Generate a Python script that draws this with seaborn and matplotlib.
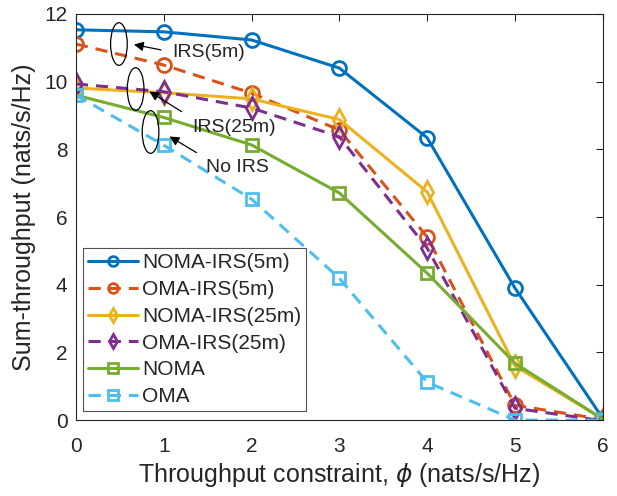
import matplotlib
matplotlib.use("Agg")
import matplotlib.pyplot as plt
from matplotlib.patches import Ellipse
import seaborn as sns
import pandas as pd

phi = [0, 1, 2, 3, 4, 5, 6]
noma_irs5 = [11.53, 11.47, 11.23, 10.40, 8.34, 3.90, 0.05]
oma_irs5 = [11.11, 10.49, 9.66, 8.57, 5.41, 0.44, 0.02]
noma_irs25 = [9.81, 9.67, 9.49, 8.88, 6.74, 1.60, 0.03]
oma_irs25 = [9.93, 9.70, 9.22, 8.37, 5.08, 0.35, -0.02]
noma = [9.60, 8.94, 8.13, 6.71, 4.34, 1.68, 0.03]
oma = [9.60, 8.12, 6.53, 4.19, 1.12, 0.00, 0.00]

names = ["NOMA-IRS(5m)", "OMA-IRS(5m)", "NOMA-IRS(25m)", "OMA-IRS(25m)", "NOMA", "OMA"]
series = [noma_irs5, oma_irs5, noma_irs25, oma_irs25, noma, oma]
colors = ["#0072BD", "#D95319", "#EDB120", "#7E2F8E", "#77AC30", "#4DBEEE"]
markers = ["o", "o", "d", "d", "s", "s"]
styles = ["-", "--", "-", "--", "-", "--"]

sns.set_theme(style="white")
plt.rcParams["font.family"] = ["Liberation Sans", "DejaVu Sans"]

fig = plt.figure(figsize=(6.17, 4.96), dpi=100)
ax = fig.add_axes([0.123, 0.153, 0.854, 0.819])

for name, vals, c, m, ls in zip(names, series, colors, markers, styles):
    df = pd.DataFrame({"phi": phi, "val": vals})
    kw = dict(linestyle="-") if ls == "-" else dict(dashes=(4, 2.6))
    sns.lineplot(data=df, x="phi", y="val", ax=ax, color=c, marker=m,
                 markersize={"o": 10, "d": 11, "s": 9}[m], markerfacecolor="none",
                 markeredgecolor=c, markeredgewidth=2.0, linewidth=2.2,
                 label=name, **kw)

ax.set_xlim(0, 6)
ax.set_ylim(0, 12)
ax.set_xticks(range(0, 7))
ax.set_yticks(range(0, 13, 2))
ax.tick_params(direction="in", top=True, right=True, length=5, width=0.8,
               labelsize=15, colors="#262626")
ax.tick_params(axis="x", pad=12)
ax.tick_params(axis="y", pad=6)
for s in ax.spines.values():
    s.set_color("#262626")
    s.set_linewidth(0.8)
ax.set_xlabel(r"Throughput constraint, $\phi$ (nats/s/Hz)", fontsize=18,
              color="#262626", labelpad=4)
ax.set_ylabel("Sum-throughput (nats/s/Hz)", fontsize=18, color="#262626", labelpad=6)

leg = ax.legend(loc="lower left", bbox_to_anchor=(0.013, 0.022), borderaxespad=0,
                fontsize=15, frameon=True, fancybox=False, edgecolor="#262626",
                handlelength=2.4, labelspacing=0.37, borderpad=0.25, handletextpad=0.2)
leg.get_frame().set_linewidth(0.8)
for h in leg.legend_handles:
    h.set_markersize(7)
    h.set_markeredgewidth(2.0)

# annotations
for (cx, cy) in [(0.49, 11.11), (0.68, 9.78), (0.85, 8.51)]:
    ax.add_patch(Ellipse((cx, cy), 0.19, 1.26, fill=False, edgecolor="black", linewidth=0.9, zorder=5))

arrowprops = dict(arrowstyle="-|>", color="black", linewidth=0.9, mutation_scale=14)
ax.annotate("", xy=(0.63, 11.11), xytext=(1.0, 10.92), arrowprops=arrowprops)
ax.annotate("", xy=(0.81, 9.75), xytext=(1.23, 9.07), arrowprops=arrowprops)
ax.annotate("", xy=(1.04, 8.42), xytext=(1.40, 7.86), arrowprops=arrowprops)
ax.text(1.1, 10.85, "IRS(5m)", fontsize=14, va="center", ha="left")
ax.text(1.32, 8.63, "IRS(25m)", fontsize=14, va="center", ha="left")
ax.text(1.48, 7.45, "No IRS", fontsize=14, va="center", ha="left")

fig.savefig("out.png", dpi=100)
